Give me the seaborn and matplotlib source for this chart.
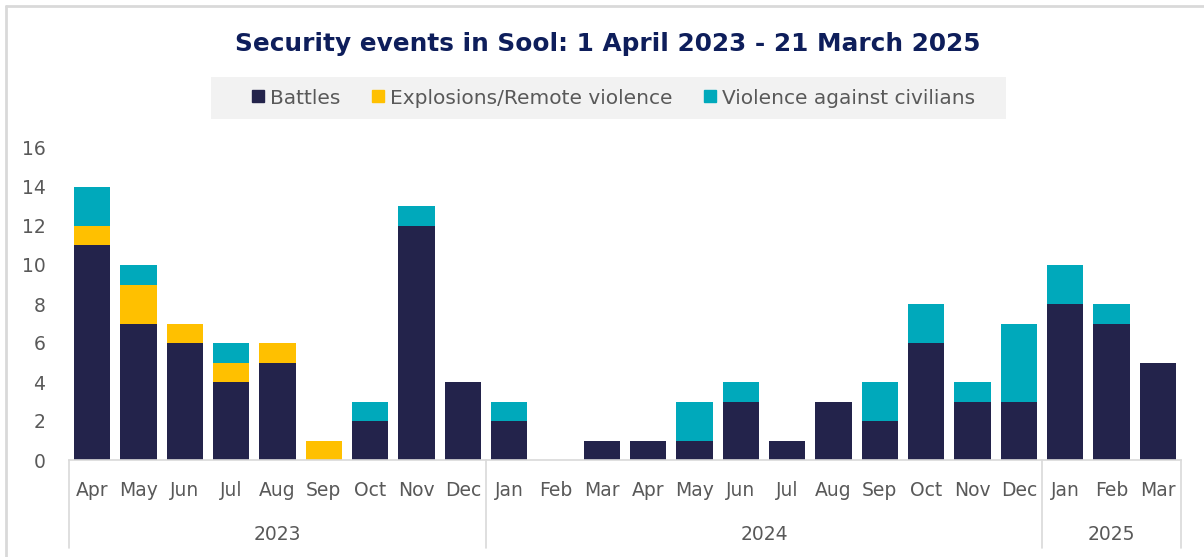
import matplotlib
matplotlib.use("Agg")
import matplotlib.pyplot as plt
import matplotlib.transforms as mtransforms
from matplotlib.patches import Rectangle
from matplotlib.lines import Line2D
import numpy as np
import pandas as pd
import seaborn as sns

# Monthly security events in Sool, by event type
months = ["Apr", "May", "Jun", "Jul", "Aug", "Sep", "Oct", "Nov", "Dec",
          "Jan", "Feb", "Mar", "Apr", "May", "Jun", "Jul", "Aug", "Sep", "Oct", "Nov", "Dec",
          "Jan", "Feb", "Mar"]
years = ["2023", "2024", "2025"]
months_per_year = [9, 12, 3]

battles = [11, 7, 6, 4, 5, 0, 2, 12, 4,
           2, 0, 1, 1, 1, 3, 1, 3, 2, 6, 3, 3,
           8, 7, 5]
explosions = [1, 2, 1, 1, 1, 1, 0, 0, 0,
              0, 0, 0, 0, 0, 0, 0, 0, 0, 0, 0, 0,
              0, 0, 0]
violence = [2, 1, 0, 1, 0, 0, 1, 1, 0,
            1, 0, 0, 0, 2, 1, 0, 0, 2, 2, 1, 4,
            2, 1, 0]

series_names = ["Battles", "Explosions/Remote violence", "Violence against civilians"]
colors = ["#23234B", "#FFC000", "#00A9BB"]

TEXT = "#595959"
GRID = "#D9D9D9"

sns.set_theme(style="white")
plt.rcParams["font.family"] = ["DejaVu Sans"]

n = len(months)
pos = np.arange(n)
df = pd.DataFrame({
    "pos": pos,
    "b": np.array(battles),
    "be": np.array(battles) + np.array(explosions),
    "bev": np.array(battles) + np.array(explosions) + np.array(violence),
})

fig = plt.figure(figsize=(12.04, 5.57), dpi=100)
ax = fig.add_axes([69 / 1204, 97 / 557, (1181 - 69) / 1204, 312 / 557])

# stacked bars: draw cumulative totals from the top layer down
for col, c in zip(["bev", "be", "b"], colors[::-1]):
    sns.barplot(data=df, x="pos", y=col, color=c, width=0.78, ax=ax,
                native_scale=True, saturation=1, linewidth=0, errorbar=None)

ax.set_xlim(-0.5, n - 0.5)
ax.set_ylim(0, 16)
ax.set_yticks(range(0, 17, 2))
ax.set_xticks(pos)
ax.set_xticklabels(months)
ax.set_xlabel("")
ax.set_ylabel("")
ax.tick_params(axis="y", length=0, pad=17, labelsize=13.5, labelcolor=TEXT)
ax.tick_params(axis="x", length=0, pad=15, labelsize=13.5, labelcolor=TEXT)
for s in ["top", "right", "left"]:
    ax.spines[s].set_visible(False)
ax.spines["bottom"].set_color(GRID)
ax.spines["bottom"].set_linewidth(1.2)
ax.grid(False)

# year group separators and labels beneath the month labels
trans = mtransforms.blended_transform_factory(ax.transData, ax.transAxes)
bottom_y = -(548 - 460) / 312
edges = np.concatenate([[0], np.cumsum(months_per_year)]) - 0.5
for e in edges:
    ax.plot([e, e], [0, bottom_y], color=GRID, lw=1.2, transform=trans, clip_on=False)
for y, a, b in zip(years, edges[:-1], edges[1:]):
    ax.text((a + b) / 2, -(535 - 460) / 312, y, transform=trans, ha="center",
            va="center", fontsize=13.5, color=TEXT)

# title
fig.text(608 / 1204, 1 - 44 / 557, "Security events in Sool: 1 April 2023 - 21 March 2025",
         ha="center", va="center", fontsize=17.8, fontweight="bold", color="#0E1E5B")

# legend on a light grey band
fig.patches.append(Rectangle((211 / 1204, 1 - 119 / 557), (1006 - 211) / 1204, 42 / 557,
                             transform=fig.transFigure, facecolor="#F2F2F2",
                             edgecolor="none", zorder=0))
handles = [Line2D([], [], marker="s", linestyle="none", markersize=9,
                  markerfacecolor=c, markeredgecolor=c) for c in colors]
fig.legend(handles, series_names, loc="center", bbox_to_anchor=(613 / 1204, 1 - 98 / 557),
           ncol=3, frameon=False, fontsize=14.5, labelcolor=TEXT, handlelength=0.7,
           handletextpad=0.25, columnspacing=1.5)

# light outer frame on top and left
fig.add_artist(Line2D([6 / 1204, 6 / 1204], [0, 1 - 6 / 557], transform=fig.transFigure,
                      color=GRID, lw=2))
fig.add_artist(Line2D([6 / 1204, 1], [1 - 6 / 557, 1 - 6 / 557], transform=fig.transFigure,
                      color=GRID, lw=2))

fig.savefig("out.png", dpi=100)
